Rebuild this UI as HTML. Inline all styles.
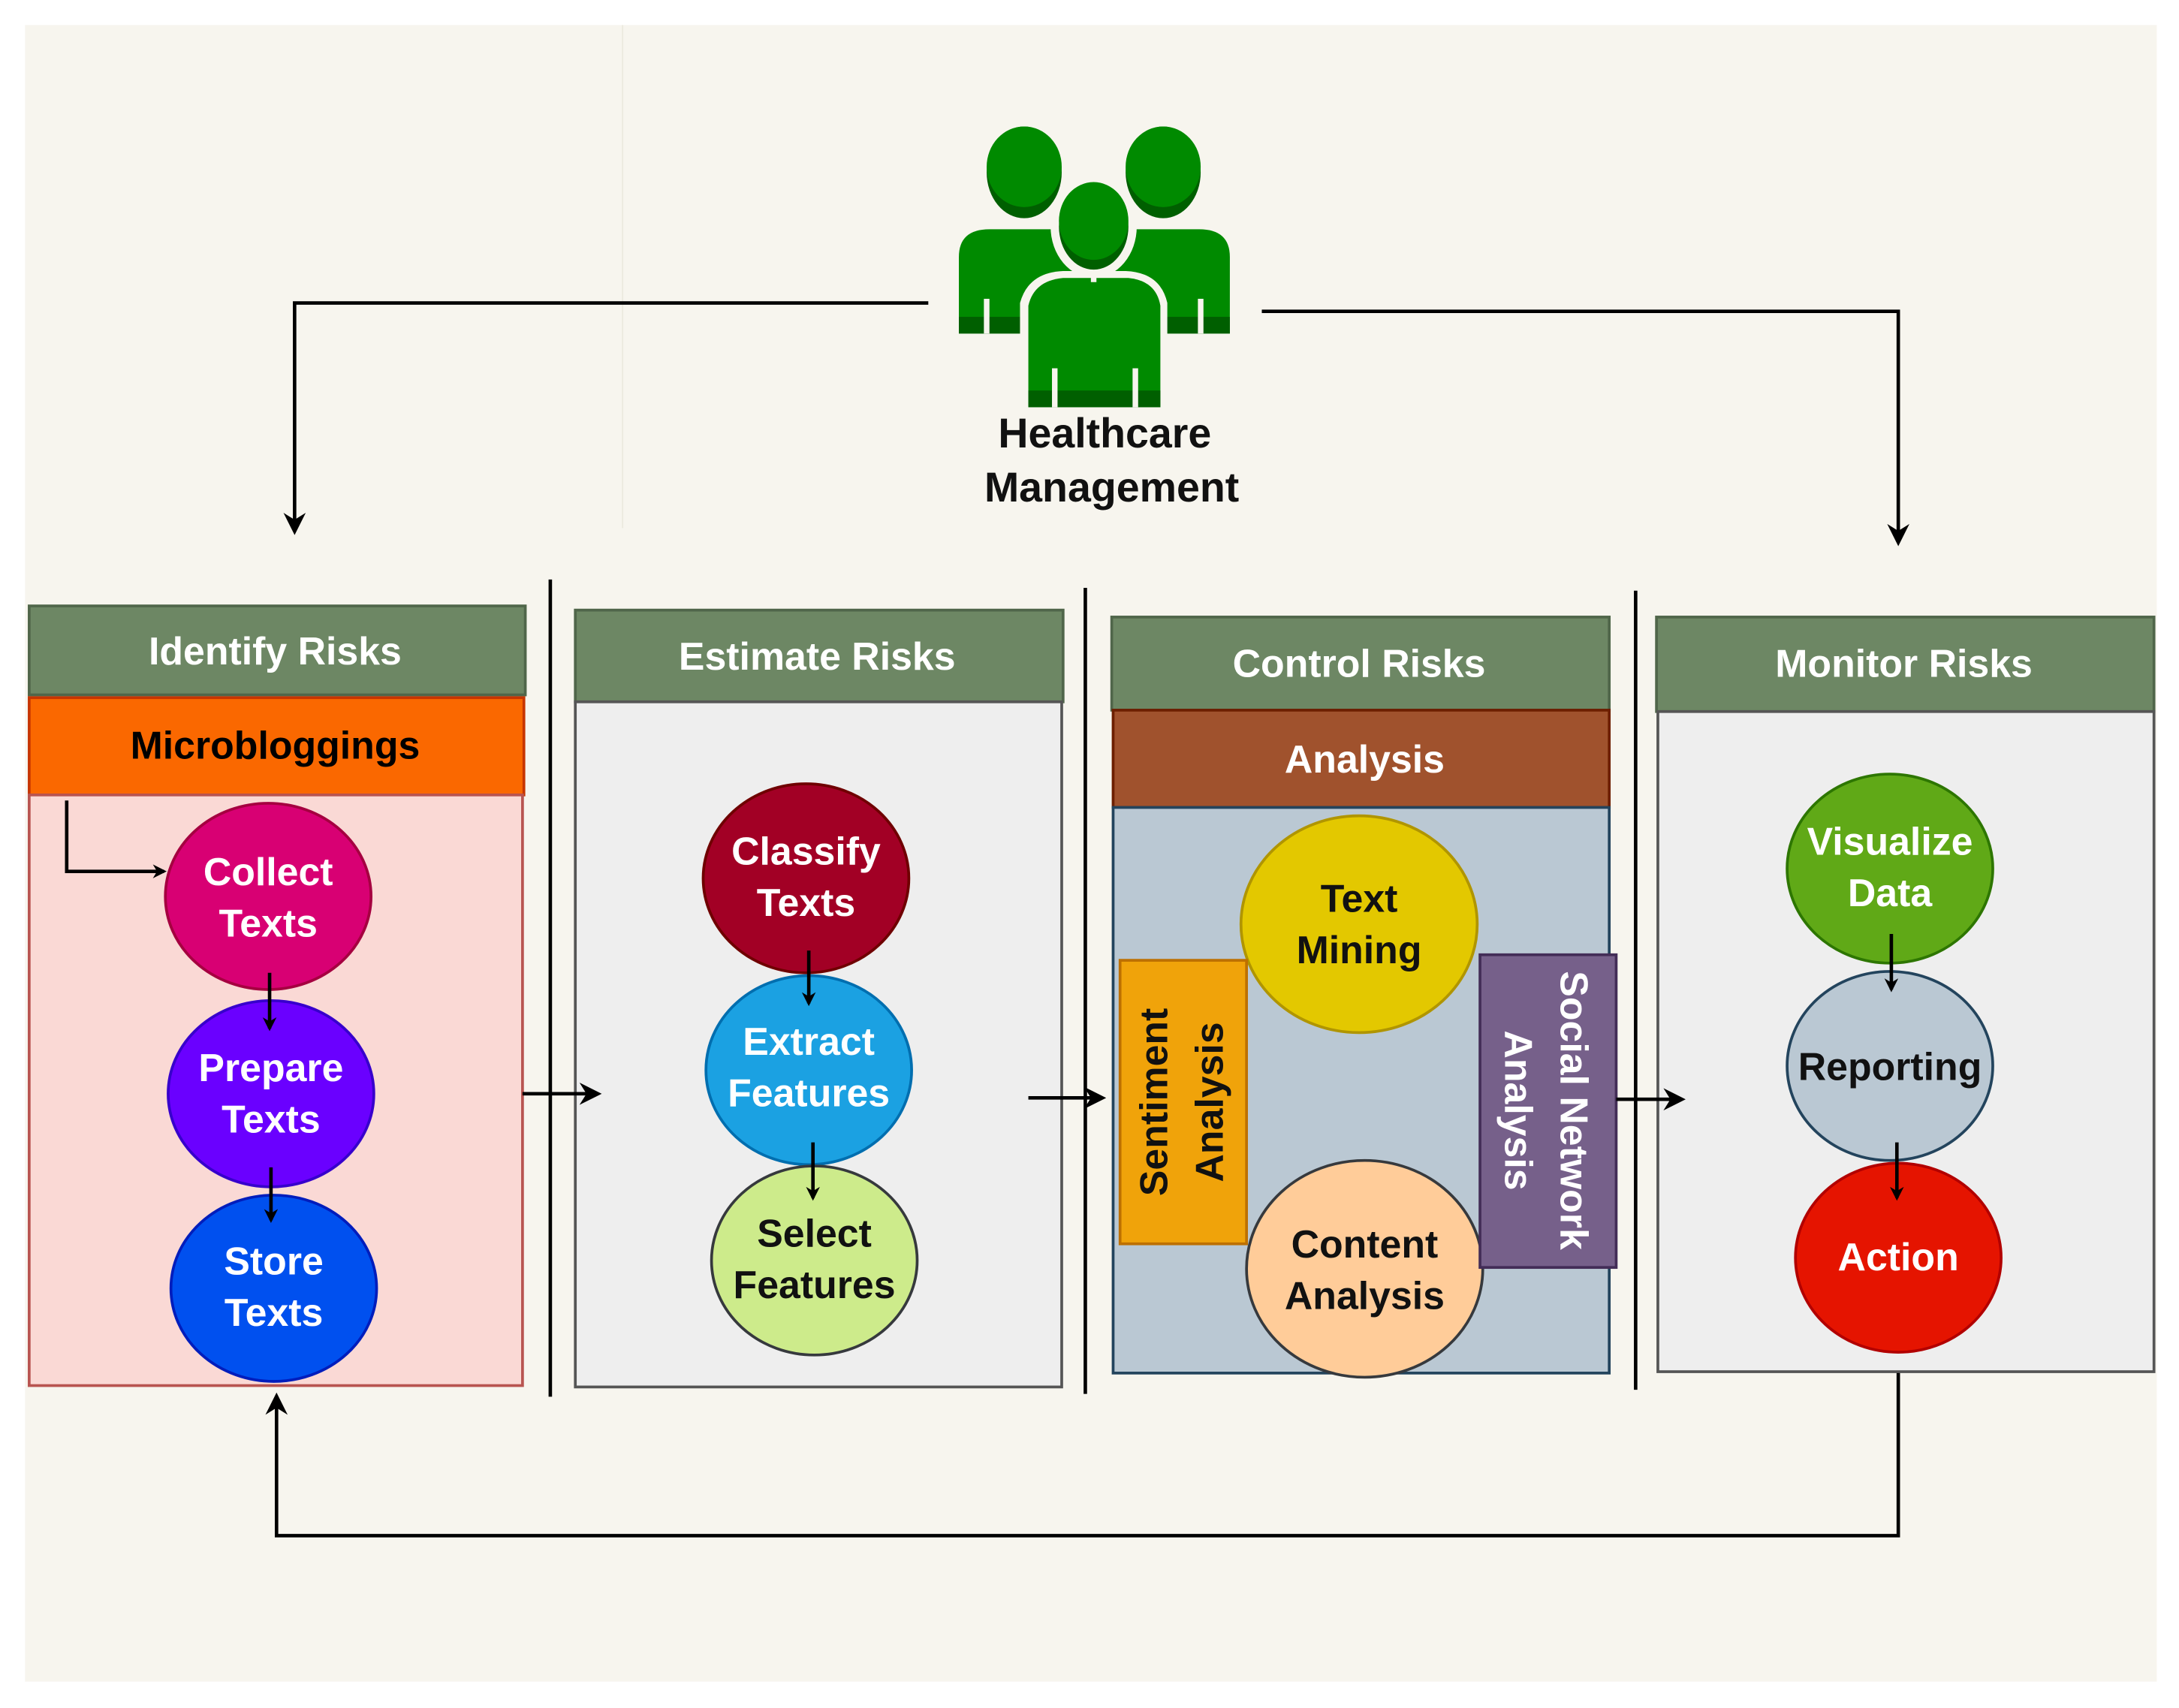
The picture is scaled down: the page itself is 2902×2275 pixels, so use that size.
<!DOCTYPE html>
<html><head><meta charset="utf-8"><style>html,body{margin:0;padding:0;background:#fff}svg{display:block}</style></head><body>
<svg width="2902" height="2275" viewBox="0 0 1568 1229" preserveAspectRatio="none" xmlns="http://www.w3.org/2000/svg" font-family="Liberation Sans, sans-serif" font-weight="bold">
<defs><marker id="a" markerWidth="10" markerHeight="10" refX="8" refY="5" orient="auto" markerUnits="userSpaceOnUse"><path d="M0,0 L10,5 L0,10 L3,5 Z" fill="#000"/></marker>
<marker id="b" markerWidth="16" markerHeight="16" refX="13" refY="8" orient="auto" markerUnits="userSpaceOnUse"><path d="M0,0 L16,8 L0,16 L5,8 Z" fill="#000"/></marker></defs>
<rect x="0" y="0" width="1568" height="1229" fill="#fff"/>
<rect x="18" y="18" width="1534" height="1192" fill="#f7f5ee"/>
<line x1="448" y1="18" x2="448" y2="380" stroke="#ece9df" stroke-width="1"/>
<!-- people icon -->
<g>
<ellipse cx="737" cy="124" rx="27" ry="33" fill="#005f00"/><ellipse cx="737" cy="120" rx="27" ry="29" fill="#008a00"/>
<ellipse cx="837" cy="124" rx="27" ry="33" fill="#005f00"/><ellipse cx="837" cy="120" rx="27" ry="29" fill="#008a00"/>
<path d="M690,240 L690,185 Q690,165 712,165 L760,165 Q765,190 790,195 L790,240 Z" fill="#008a00"/>
<path d="M885,240 L885,185 Q885,165 863,165 L815,165 Q810,190 784,195 L784,240 Z" fill="#008a00"/>
<rect x="690" y="228" width="195" height="12" fill="#005f00"/>
<path d="M734,300 L734,218 Q740,196 765,195 L810,195 Q835,196 840,218 L840,300 Z" fill="#f7f5ee"/>
<ellipse cx="787" cy="163" rx="31" ry="37" fill="#f7f5ee"/>
<ellipse cx="787" cy="163" rx="25" ry="31" fill="#005f00"/><ellipse cx="787" cy="159" rx="25" ry="28" fill="#008a00"/>
<path d="M740,293 L740,220 Q744,202 765,200 L812,200 Q832,202 835,220 L835,293 Z" fill="#008a00"/>
<rect x="740" y="281" width="95" height="12" fill="#005f00"/>
<rect x="708" y="215" width="4" height="25" fill="#f7f5ee"/><rect x="862" y="215" width="4" height="25" fill="#f7f5ee"/>
<rect x="757" y="265" width="4" height="28" fill="#f7f5ee"/><rect x="815" y="265" width="4" height="28" fill="#f7f5ee"/>
<rect x="785" y="195" width="4" height="8" fill="#f7f5ee"/>
</g>
<text x="795" y="322" font-size="30" text-anchor="middle" fill="#111">Healthcare</text>
<text x="800" y="361" font-size="30" text-anchor="middle" fill="#111">Management</text>
<g fill="none" stroke="#000" stroke-width="2.5">
<polyline points="668,218 212,218 212,382" marker-end="url(#b)"/>
<polyline points="908,224 1366,224 1366,390" marker-end="url(#b)"/>
<polyline points="1366,987 1366,1105 199,1105 199,1005" marker-end="url(#b)"/>
<line x1="396" y1="417" x2="396" y2="1005"/>
<line x1="781" y1="423" x2="781" y2="1003"/>
<line x1="1177" y1="425" x2="1177" y2="1000"/>
</g>
<!-- Identify -->
<rect x="21" y="436" width="357" height="64" fill="#6d8764" stroke="#50664a" stroke-width="2"/>
<text x="198" y="478" font-size="28" fill="#fff" text-anchor="middle">Identify Risks</text>
<rect x="21" y="502" width="356" height="70" fill="#fa6800" stroke="#c73500" stroke-width="2"/>
<text x="198" y="546" font-size="28" fill="#000" text-anchor="middle">Microbloggings</text>
<rect x="21" y="572" width="355" height="425" fill="#fad9d5" stroke="#b85450" stroke-width="2"/>
<!-- Estimate -->
<rect x="414" y="439" width="351" height="66" fill="#6d8764" stroke="#50664a" stroke-width="2"/>
<text x="588" y="482" font-size="28" fill="#fff" text-anchor="middle">Estimate Risks</text>
<rect x="414" y="505" width="350" height="493" fill="#eeeeee" stroke="#555" stroke-width="2"/>
<!-- Control -->
<rect x="800" y="444" width="358" height="67" fill="#6d8764" stroke="#50664a" stroke-width="2"/>
<text x="978" y="487" font-size="28" fill="#fff" text-anchor="middle">Control Risks</text>
<rect x="801" y="511" width="357" height="70" fill="#a0522d" stroke="#6d1f00" stroke-width="2"/>
<text x="982" y="556" font-size="28" fill="#fff" text-anchor="middle">Analysis</text>
<rect x="801" y="581" width="357" height="407" fill="#bac8d3" stroke="#23445d" stroke-width="2"/>
<!-- Monitor -->
<rect x="1192" y="444" width="358" height="68" fill="#6d8764" stroke="#50664a" stroke-width="2"/>
<text x="1370" y="487" font-size="28" fill="#fff" text-anchor="middle">Monitor Risks</text>
<rect x="1193" y="512" width="357" height="475" fill="#eeeeee" stroke="#555" stroke-width="2"/>
<!-- circles -->
<g stroke-width="2">
<ellipse cx="193" cy="645" rx="74" ry="67" fill="#d80073" stroke="#a50040"/>
<ellipse cx="195" cy="787" rx="74" ry="67" fill="#6a00ff" stroke="#3700cc"/>
<ellipse cx="197" cy="927" rx="74" ry="67" fill="#0050ef" stroke="#001dbc"/>
<ellipse cx="580" cy="632" rx="74" ry="68" fill="#a20025" stroke="#6f0000"/>
<ellipse cx="582" cy="770" rx="74" ry="68" fill="#1ba1e2" stroke="#006eaf"/>
<ellipse cx="586" cy="907" rx="74" ry="68" fill="#cdeb8b" stroke="#36393d"/>
<ellipse cx="978" cy="665" rx="85" ry="78" fill="#e3c800" stroke="#b09500"/>
<ellipse cx="982" cy="913" rx="85" ry="78" fill="#ffcc99" stroke="#36393d"/>
<rect x="806" y="691" width="91" height="204" fill="#f0a30a" stroke="#bd7000"/>
<rect x="1065" y="687" width="98" height="225" fill="#76608a" stroke="#432d57"/>
<ellipse cx="1360" cy="625" rx="74" ry="68" fill="#60a917" stroke="#2d7600"/>
<ellipse cx="1360" cy="767" rx="74" ry="68" fill="#bac8d3" stroke="#23445d"/>
<ellipse cx="1366" cy="905" rx="74" ry="68" fill="#e51400" stroke="#b20000"/>
</g>
<g font-size="28" text-anchor="middle" fill="#fff">
<text x="193" y="637">Collect</text><text x="193" y="674">Texts</text>
<text x="195" y="778">Prepare</text><text x="195" y="815">Texts</text>
<text x="197" y="917">Store</text><text x="197" y="954">Texts</text>
<text x="580" y="622">Classify</text><text x="580" y="659">Texts</text>
<text x="582" y="759">Extract</text><text x="582" y="796">Features</text>
<text x="1360" y="615">Visualize</text><text x="1360" y="652">Data</text>
<text x="1366" y="914">Action</text>
</g>
<g font-size="28" text-anchor="middle" fill="#111">
<text x="586" y="897">Select</text><text x="586" y="934">Features</text>
<text x="978" y="656">Text</text><text x="978" y="693">Mining</text>
<text x="982" y="905">Content</text><text x="982" y="942">Analysis</text>
<text x="1360" y="777">Reporting</text>
<text transform="translate(840,793) rotate(-90)" font-size="28">Sentiment</text>
<text transform="translate(880,793) rotate(-90)" font-size="28">Analysis</text>
</g>
<g font-size="28" text-anchor="middle" fill="#fff">
<text transform="translate(1123,799) rotate(90)">Social Network</text>
<text transform="translate(1083,799) rotate(90)">Analysis</text>
</g>
<g fill="none" stroke="#000" stroke-width="2.5">
<polyline points="48,576 48,627 118,627" marker-end="url(#a)"/>
<line x1="194" y1="700" x2="194" y2="740" marker-end="url(#a)"/>
<line x1="195" y1="840" x2="195" y2="878" marker-end="url(#a)"/>
<line x1="582" y1="684" x2="582" y2="722" marker-end="url(#a)"/>
<line x1="585" y1="822" x2="585" y2="862" marker-end="url(#a)"/>
<line x1="1361" y1="672" x2="1361" y2="712" marker-end="url(#a)"/>
<line x1="1365" y1="822" x2="1365" y2="862" marker-end="url(#a)"/>
<line x1="376" y1="787" x2="430" y2="787" marker-end="url(#b)"/>
<line x1="740" y1="790" x2="793" y2="790" marker-end="url(#b)"/>
<line x1="1163" y1="791" x2="1210" y2="791" marker-end="url(#b)"/>
</g>
</svg>
</body></html>
